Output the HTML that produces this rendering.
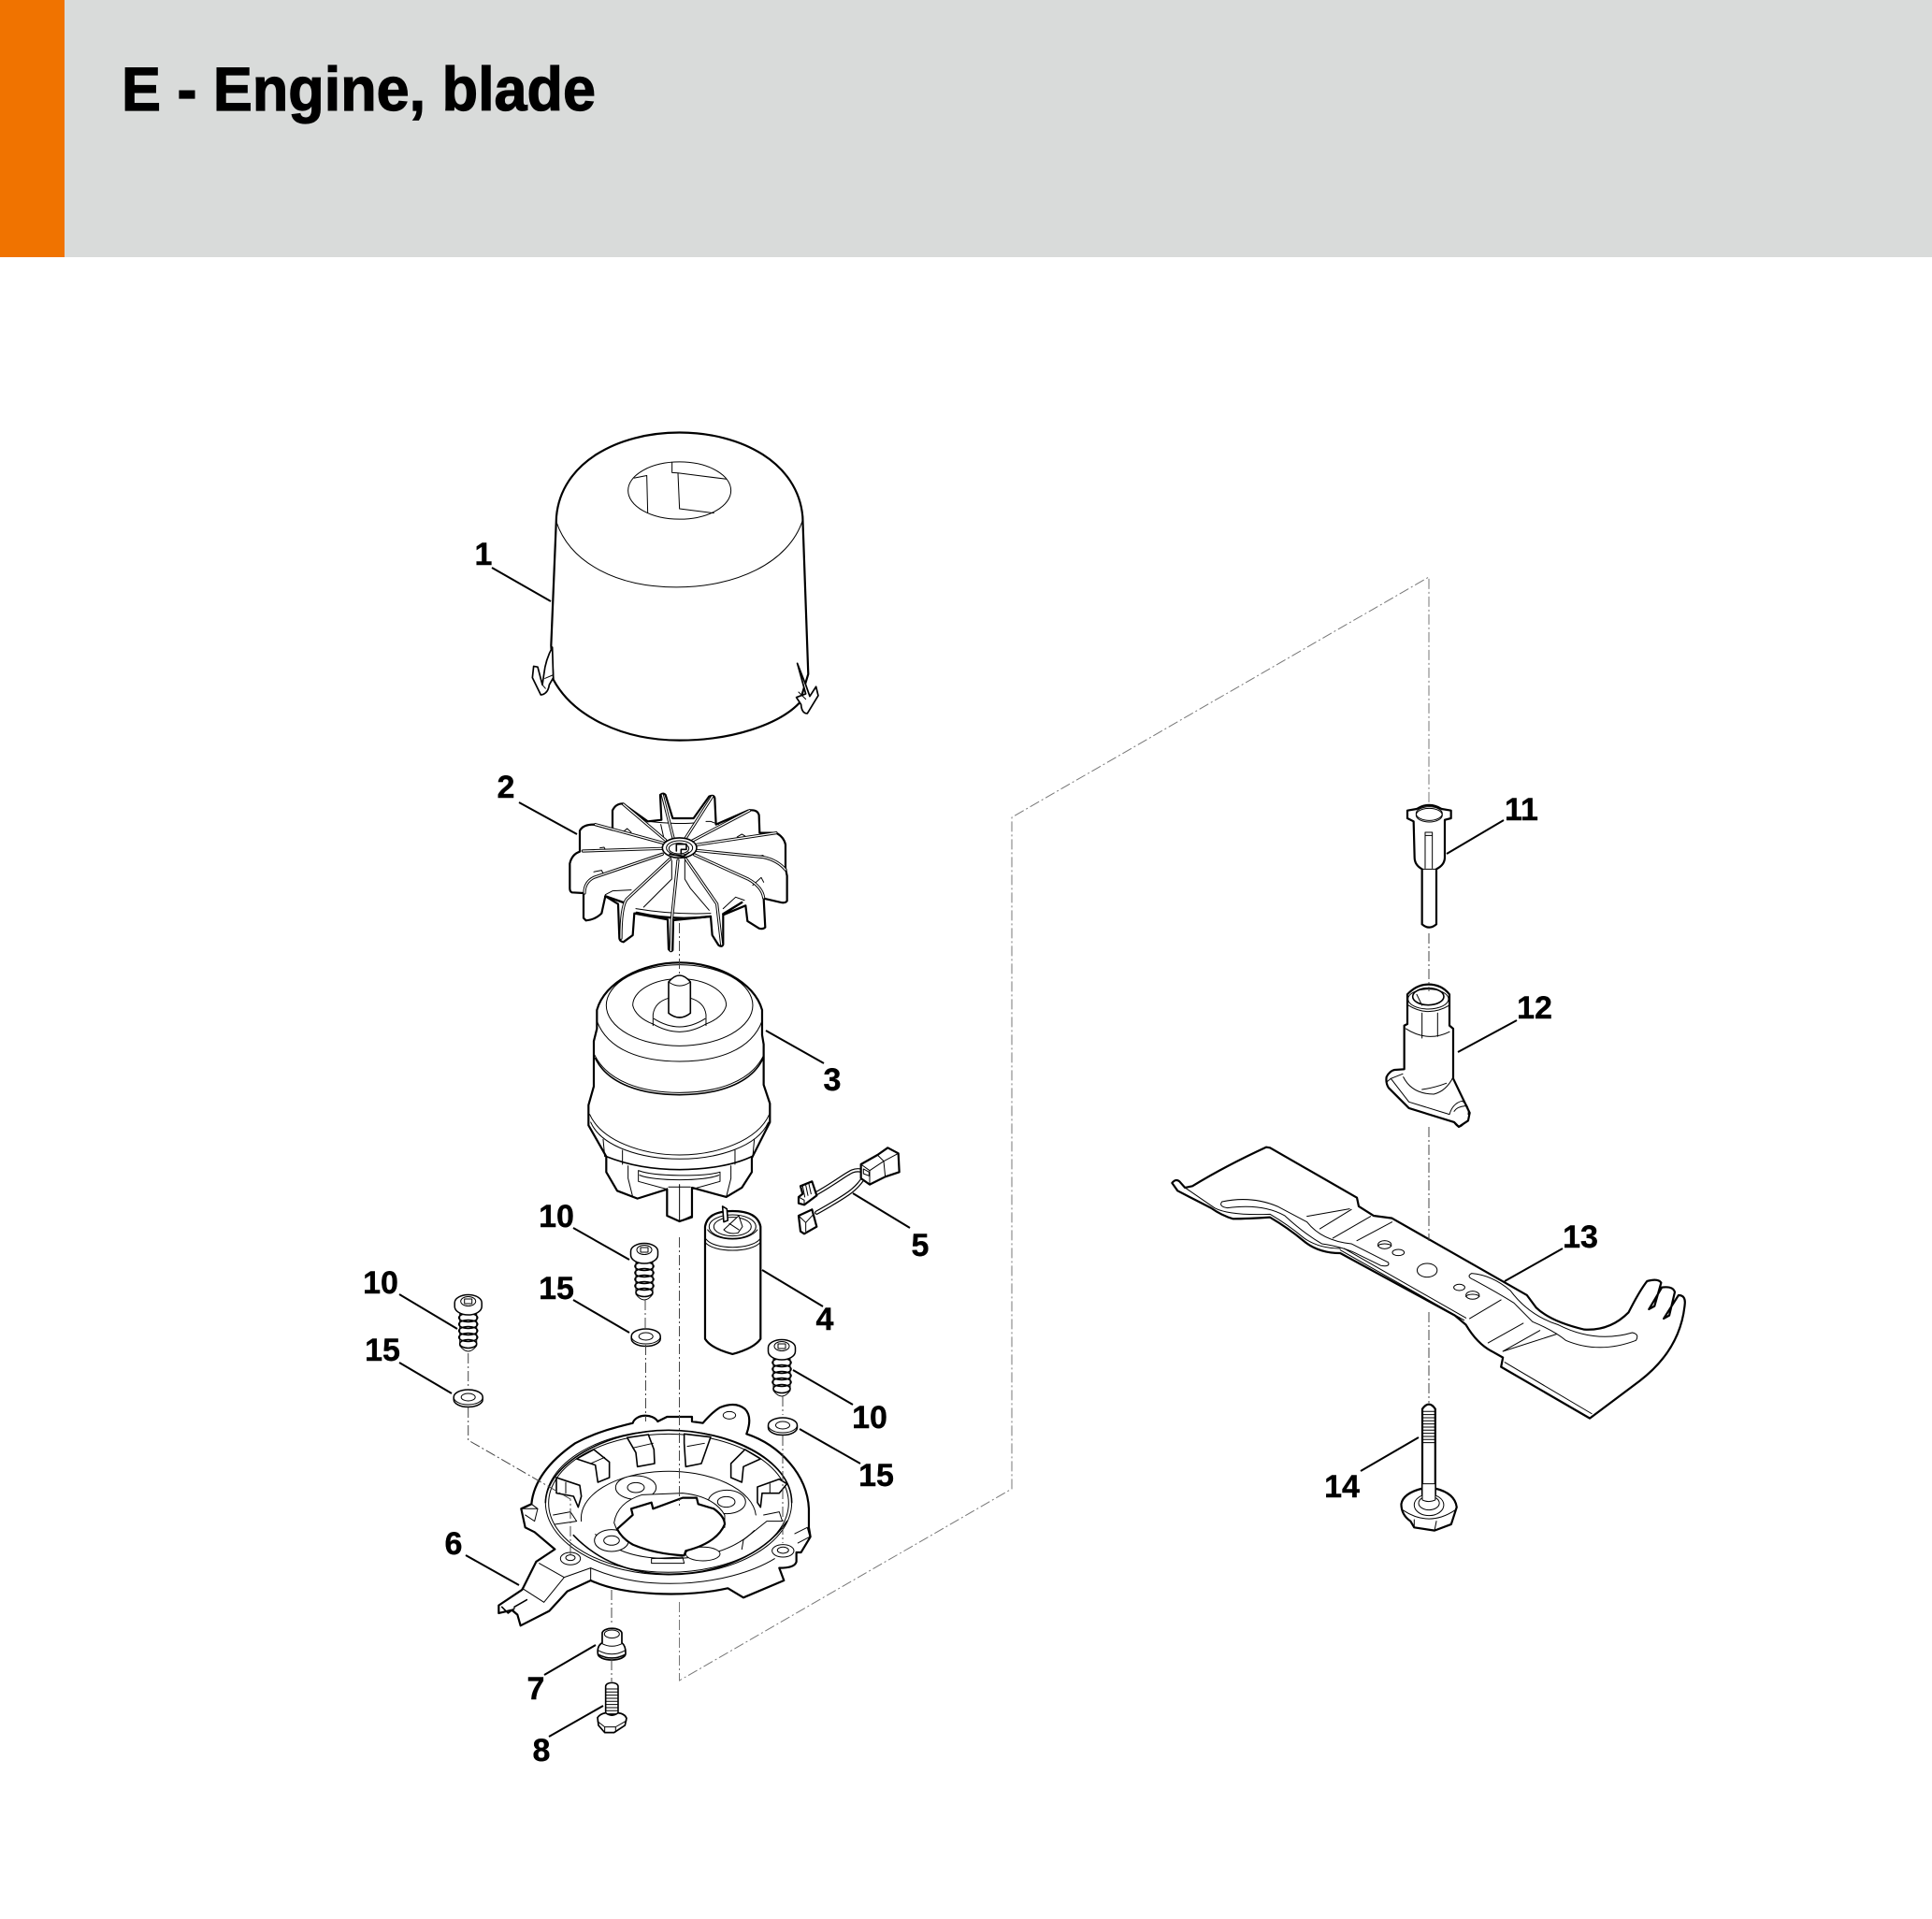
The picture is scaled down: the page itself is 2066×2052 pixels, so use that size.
<!DOCTYPE html>
<html><head><meta charset="utf-8"><style>
html,body{margin:0;padding:0;background:#fff}
svg{display:block}
svg *{vector-effect:non-scaling-stroke}
.k{fill:#fff;stroke:#000;stroke-width:2.2;stroke-linejoin:round;stroke-linecap:round}
.t{fill:none;stroke:#000;stroke-width:1;stroke-linejoin:round;stroke-linecap:round}
.m{fill:none;stroke:#000;stroke-width:1.6;stroke-linejoin:round;stroke-linecap:round}
.f{fill:#fff;stroke:#000;stroke-width:1;stroke-linejoin:round}
.b{fill:none;stroke:#000;stroke-width:3.2;stroke-linecap:round;stroke-linejoin:round}
.w{fill:none;stroke:#fff;stroke-width:1.3;stroke-linecap:round;stroke-linejoin:round}
.d{fill:none;stroke:#444;stroke-width:1;stroke-dasharray:11 3 2 3}
.l{fill:none;stroke:#000;stroke-width:2}
text.n{font:bold 34px "Liberation Sans",sans-serif;text-anchor:middle;fill:#000;stroke:#000;stroke-width:.4}
</style></head><body>
<svg xmlns="http://www.w3.org/2000/svg" width="2066" height="2052" viewBox="0 0 2066 2052">
<rect width="2066" height="2052" fill="#fff"/>
<rect width="2066" height="275" fill="#d9dbda"/>
<rect width="69" height="275" fill="#f07300"/>
<text x="130" y="118" font-family="Liberation Sans" font-weight="bold" font-size="66" textLength="507" lengthAdjust="spacingAndGlyphs" stroke="#000" stroke-width="1.2">E - Engine, blade</text>

<defs>
<g id="screw">
<path class="f" d="M-9,12V46Q0,58 9,46V12Z"/>
<g class="m"><ellipse cx="0" cy="16" rx="10" ry="4.5"/><ellipse cx="0" cy="23" rx="10" ry="4.5"/><ellipse cx="0" cy="30" rx="10" ry="4.5"/><ellipse cx="0" cy="37" rx="10" ry="4.5"/><ellipse cx="0" cy="44" rx="9" ry="4.5"/></g>
<path class="k" style="stroke-width:1.5" d="M-14.5,0V4A14.5,9 0 0 0 14.5,4V0A14.5,8.5 0 0 0 -14.5,0Z"/>
<ellipse class="t" cx="0" cy="-1.5" rx="8" ry="5"/><rect class="t" x="-4" y="-4" width="8" height="5"/>
</g>
<g id="washer">
<path class="k" style="stroke-width:1.5" d="M-15.5,0V2.5A15.5,8 0 0 0 15.5,2.5V0A15.5,8 0 0 0 -15.5,0Z"/>
<path class="t" d="M-15.5,0A15.5,8 0 0 0 15.5,0"/>
<ellipse class="t" cx="0" cy="0" rx="7.5" ry="4"/>
</g>
</defs>

<!-- CAP + -->
<g transform="translate(500,430) scale(.3333,.3827)">
<path class="k" d="M285,320C300,170 480,85 680,85C880,85 1060,170 1075,320L1093,760L1065,840C1000,900 850,945 680,945C500,945 340,880 275,775L268,680Z"/>
<path class="t" d="M285,335C330,450 480,517 670,517C860,517 1030,450 1075,330"/>
<ellipse class="t" cx="680" cy="247" rx="165" ry="80"/>
<path class="t" d="M535,212L575,205L578,310M656,168V197L675,198L680,298L790,310M675,198L830,215"/>
<path class="k" style="stroke-width:1.7" d="M272,685Q250,720 245,760L240,790L225,740L212,738L208,770L235,818Q258,815 262,790L275,770Z"/>
<path class="t" d="M248,772L275,762M240,790L250,800"/>
<path class="k" style="stroke-width:1.7" d="M1058,730L1085,790L1098,822L1118,795L1125,820L1090,870Q1072,870 1070,845L1055,825L1085,815Z"/>
<path class="t" d="M1062,810L1085,830"/>
</g>

<!-- FAN -->
<g transform="translate(560,770) scale(.3333)">
<path class="k" d="M180,368V355Q190,335 225,335L285,352V290Q295,268 318,268L398,325L442,320L438,240Q448,232 455,240L478,315H545L595,245Q610,238 613,250L617,335L720,290Q750,285 755,305L757,362H810Q835,375 840,400V475L845,500V580Q840,588 825,585L770,572L775,665Q768,672 755,668L718,645L712,595L640,625V720Q635,730 625,722L605,690L600,630L480,642L478,738Q472,745 465,735L462,640L355,620L350,690L320,712Q308,710 307,700L303,590L262,565L250,620Q230,640 200,643L192,635V555L155,553Q148,550 148,540V460Q155,430 180,422Z"/>
<path class="t" d="M475,450V510L385,600M517,450V510L535,540L595,610M400,325Q500,335 545,330M440,335L450,380M360,605Q480,625 600,620"/>
<path class="m" style="stroke-width:2.4" d="M362,618Q480,645 600,630M640,622L700,585M262,565L320,585"/>
<path class="t" d="M262,560L285,548L345,545M640,605L680,568L708,578M225,487L250,482L255,492M245,410L258,408L262,416M320,358L332,348L345,360M585,325L600,325L625,335M685,375L700,366L710,372M735,530L762,505L770,520M745,438L768,434L770,442"/>
<g class="b"><path d="M445,412L190,420"/><path d="M450,395L230,335"/><path d="M455,385L320,270"/><path d="M480,378L445,240"/><path d="M520,378L605,245"/><path d="M540,388L725,290"/><path d="M555,400L810,362"/><path d="M553,418L770,440Q815,450 840,480"/><path d="M548,432L720,510Q765,535 770,570"/><path d="M520,445L620,590L635,720"/><path d="M495,450L475,640L472,740"/><path d="M470,445L330,575Q312,600 312,700"/><path d="M445,430L225,505Q195,520 195,555"/></g>
<g class="w"><path d="M445,412L190,420"/><path d="M450,395L230,335"/><path d="M455,385L320,270"/><path d="M480,378L445,240"/><path d="M520,378L605,245"/><path d="M540,388L725,290"/><path d="M555,400L810,362"/><path d="M553,418L770,440Q815,450 840,480"/><path d="M548,432L720,510Q765,535 770,570"/><path d="M520,445L620,590L635,720"/><path d="M495,450L475,640L472,740"/><path d="M470,445L330,575Q312,600 312,700"/><path d="M445,430L225,505Q195,520 195,555"/></g>
<ellipse class="f" style="stroke-width:1.6" cx="500" cy="410" rx="55" ry="32"/>
<ellipse class="t" cx="500" cy="410" rx="42" ry="23"/>
<ellipse class="f" cx="498" cy="412" rx="32" ry="17"/>
<path class="m" d="M490,398H522V415H505V428M490,398V420M468,430L512,438L530,425"/>
</g>

<!-- MOTOR + CAPACITOR -->
<g transform="translate(500,1000) scale(.3333)">
<path class="k" d="M415,240C440,150 560,88 680,88C800,88 920,150 945,240V320L950,350V480L970,540V600L912,715V760L880,810L830,840L720,810V905L680,918L640,900V815L545,845L480,820L445,760V710L388,610V545L405,485V340L415,300Z"/>
<ellipse class="t" cx="680" cy="225" rx="235" ry="130"/>
<path class="t" d="M530,225A150,85 0 0 1 830,225A150,85 0 0 1 765,285M530,225A150,85 0 0 0 595,285"/>
<path class="t" d="M595,290V255Q600,215 645,202M765,290V255Q760,215 715,202"/>
<path class="t" d="M595,285Q680,335 765,285"/>
<path class="t" d="M598,268Q680,320 762,268"/>
<path class="f" style="stroke-width:1.6" d="M645,150Q680,108 715,150V250Q680,278 645,250Z"/>
<path class="t" d="M645,150Q680,175 715,150"/>
<path class="t" d="M415,275C450,370 560,405 680,405C800,405 910,370 945,275"/>
<path class="t" d="M408,385C450,470 560,505 680,505C800,505 910,470 950,385"/>
<path class="m" d="M410,395C450,478 560,512 680,512C800,512 910,478 948,395"/>
<path class="t" d="M392,575C430,660 560,705 680,705C800,705 930,660 968,575M395,600C430,680 560,718 680,718C800,718 930,680 965,600"/>
<path class="t" d="M435,655L440,710M497,690V735M858,690V735M920,655L915,710"/>
<path class="m" d="M445,710C520,740 600,752 680,752C760,752 850,740 912,710"/>
<path class="t" d="M515,740V780L530,840M845,740V780L830,840M548,755V790L640,815M810,760V790L720,815M548,755C600,775 760,775 810,760M552,770C600,790 760,790 806,770"/>
<path class="t" d="M680,800V815M640,812V900L680,918L720,900V812M645,808H715M680,808V918"/>

<path class="k" d="M762,935Q770,885 850,885Q930,885 940,935V1295Q920,1325 850,1344Q780,1325 762,1295Z"/>
<path class="t" d="M762,985C790,1020 910,1020 940,985M765,975C790,1010 910,1010 938,975M770,945C800,985 900,985 930,945"/>
<ellipse class="t" cx="850" cy="935" rx="75" ry="38"/><ellipse class="t" cx="850" cy="935" rx="60" ry="30"/>
<path class="f" style="stroke-width:1.6" d="M818,870L832,878L835,915L822,920Z"/>
<path class="f" d="M822,945L870,900L882,935L868,955Q840,962 822,945Z"/>
<path class="t" d="M840,925L870,945"/>
</g>

<!-- CONNECTOR 5 -->
<g transform="translate(830,1200) scale(.3333)">
<g style="stroke-width:4.4" class="b"><path style="stroke-width:4.4" d="M272,155C240,148 230,170 130,228"/><path style="stroke-width:4.4" d="M285,172C255,215 245,225 130,290"/></g>
<g class="w"><path style="stroke-width:2" d="M272,155C240,148 230,170 130,228"/><path style="stroke-width:2" d="M285,172C255,215 245,225 130,290"/></g>
<path class="k" d="M272,135L325,105L358,82L392,100L395,160L350,175L300,200L272,180Z"/>
<path class="t" d="M325,105L345,125L392,100M345,125L350,175M272,135L300,155V200M300,155L345,125M280,150L298,160V172L280,165Z"/>
<path class="k" d="M78,205L115,190L130,235L90,265L72,260V240L85,230Z"/>
<path class="t" d="M85,205L92,240M95,202L102,235M105,198L112,230M72,240L90,250V265"/>
<path class="k" d="M72,300L115,280L130,335L90,358L78,350Z"/>
<path class="t" d="M72,300L95,322L120,295M95,322V350"/>
</g>

<!-- RING 6, 7, 8 -->
<g transform="translate(500,1400) scale(.3333)">
<path class="k" d="M395,870L320,905L262,968L170,1015L160,980L142,965L100,975V950L175,900L220,810L280,770L215,715L185,700L172,640L205,625Q215,520 345,430C410,395 470,380 530,365A42,30 0 0 1 610,360L640,345H720V360L755,365Q785,330 810,315Q860,295 890,320Q915,345 895,400C1000,435 1090,530 1095,640V700L1100,730L1070,780H1055V810Q1050,830 1000,830L1015,870L885,925L835,895C700,925 500,920 395,870Z"/>
<ellipse class="t" cx="645" cy="620" rx="395" ry="232"/>
<path class="m" d="M250,620C252,500 440,388 645,388C830,388 1040,480 1040,620"/>
<ellipse class="t" cx="645" cy="622" rx="385" ry="222"/>
<path class="m" d="M340,725C420,810 530,850 650,850C800,850 950,790 1025,680"/>
<path class="t" d="M395,830C500,875 590,880 650,880C800,880 920,840 985,800"/>
<path class="t" d="M365,680A280,150 0 0 1 925,660"/>
<path class="t" d="M410,722C480,785 560,800 650,800C760,800 860,770 920,710"/>
<path class="t" d="M230,815L310,860L395,830V870M175,895L245,940M310,860L245,940M172,640H225L215,680L185,660M205,625L225,640M1050,720L1090,700L1098,730L1060,750"/>
<path class="m" d="M150,955L190,932M110,955L130,975L150,960M160,980L145,965"/>
<ellipse class="f" cx="840" cy="340" rx="20" ry="12"/>
<ellipse class="f" cx="330" cy="800" rx="32" ry="20"/><ellipse class="t" cx="330" cy="797" rx="15" ry="9"/>
<ellipse class="f" cx="1012" cy="775" rx="35" ry="20"/><ellipse class="t" cx="1012" cy="773" rx="18" ry="10"/>
<path class="f" style="stroke-width:1.6" d="M512,412L580,402L598,450L600,495L545,505L540,460Z"/><path class="t" d="M530,445L595,430"/>
<path class="f" style="stroke-width:1.6" d="M695,400L780,410L750,495L700,505L695,430Z"/><path class="t" d="M705,440L760,430"/>
<path class="f" style="stroke-width:1.6" d="M350,480L405,450L455,490V540L418,555L410,500Z"/><path class="t" d="M395,495L440,475"/>
<path class="f" style="stroke-width:1.6" d="M845,495L890,450L940,480L885,505L880,555L845,540Z"/>
<path class="f" style="stroke-width:1.6" d="M285,540L360,565L365,600L355,635L340,600L285,590Z"/><path class="t" d="M315,555V590"/>
<path class="f" style="stroke-width:1.6" d="M930,570L1000,545L1025,560L1000,590H945L940,635L930,620Z"/><path class="t" d="M970,560V590"/>
<path class="t" d="M275,660L330,650L350,680L280,690M950,660L1000,650L1010,680H960L885,740L880,770M590,800L690,795L695,815L590,815Z"/>
<ellipse class="f" cx="540" cy="572" rx="65" ry="38"/><ellipse class="f" cx="540" cy="572" rx="27" ry="16"/>
<ellipse class="f" cx="832" cy="618" rx="60" ry="38"/><ellipse class="f" cx="830" cy="618" rx="28" ry="17"/>
<ellipse class="f" cx="462" cy="742" rx="55" ry="35"/><ellipse class="f" cx="462" cy="742" rx="25" ry="15"/>
<ellipse class="f" cx="755" cy="785" rx="55" ry="22"/>
<path class="f" d="M470,685Q480,620 560,595L690,590Q790,600 825,660L825,700L480,710Z"/>
<path class="k" d="M480,705L530,660L525,640L590,620L595,640L690,605H735L740,625L790,640Q825,665 825,690Q800,750 700,775L695,790Q600,785 530,755Q495,735 480,705Z"/>

<path class="k" style="stroke-width:1.7" d="M432,1040A31,16 0 0 1 495,1040V1070Q508,1080 507,1105A44,20 0 0 1 418,1105Q415,1080 432,1070Z"/>
<ellipse class="t" cx="463" cy="1042" rx="24" ry="13"/>
<path class="t" d="M430,1072Q463,1090 497,1072M420,1095Q463,1118 505,1095"/>
<path class="m" d="M420,1108Q463,1130 505,1108"/>
<path class="f" style="stroke-width:1.6" d="M443,1210A20,12 0 0 1 483,1210V1300H443Z"/>
<path class="t" d="M444,1218H482M444,1228H482M444,1238H482M444,1248H482M444,1258H482M444,1268H482M444,1278H482M444,1288H482M444,1298H482"/>
<path class="k" style="stroke-width:1.7" d="M417,1310Q425,1298 443,1295Q463,1310 483,1295Q505,1298 510,1312L505,1335L470,1358H440L420,1335Z"/>
<path class="t" d="M417,1322L440,1340H475L510,1320M440,1340V1358M475,1340V1356"/>
</g>

<!-- BLADE 13 + BOLT 14 -->
<g transform="translate(1200,1150) scale(.3953,.3333)">
<path class="k" d="M135,345Q145,330 155,340L170,360L190,355Q280,290 390,230L400,232L635,392L640,420L680,450L730,458L1095,705L1120,745Q1160,790 1250,815Q1320,820 1370,760Q1400,690 1420,660Q1450,650 1458,665L1440,740L1425,750L1460,680Q1490,675 1495,695L1480,770L1465,780L1505,705Q1525,705 1522,735Q1510,880 1400,980L1265,1100L1025,935L1030,905L1000,885Q960,860 930,800L900,770L590,570Q530,570 490,530Q450,490 400,455Q340,460 300,460Q270,450 240,425L150,370Z"/>
<path class="t" d="M270,405Q350,385 420,420L500,470Q540,530 620,540L720,600Q725,615 700,610L640,575Q600,550 540,540Q490,505 440,450Q380,410 285,425Q260,420 270,405Z"/>
<path class="t" d="M945,635Q1000,640 1050,690Q1100,770 1180,800Q1280,860 1380,825Q1400,830 1390,850Q1290,895 1200,850Q1170,820 1110,790L1060,730Q1020,700 950,655Q930,645 945,635Z"/>
<path class="t" d="M500,452L615,428M535,492L620,430M570,522L672,452M635,530L730,470M940,780L1025,720M990,858L1085,795M1030,885L1130,818M1030,885L1175,830M590,560L925,785M600,555L930,778M1035,920L1270,1085M170,360L250,425Q290,450 400,445Q450,480 490,520Q530,555 590,555"/>
<ellipse class="t" cx="825" cy="625" rx="27" ry="22"/>
<ellipse class="t" cx="710" cy="543" rx="18" ry="13"/><path class="t" d="M692,548A18,8 0 0 1 728,548"/>
<ellipse class="t" cx="747" cy="568" rx="16" ry="10"/>
<ellipse class="t" cx="912" cy="680" rx="15" ry="10"/>
<ellipse class="t" cx="948" cy="705" rx="18" ry="13"/><path class="t" d="M930,710A18,8 0 0 1 966,710"/>

<path class="k" d="M812,1070Q830,1040 847,1070V1350H812Z"/>
<path class="t" d="M814,1078H845M814,1088H845M814,1098H845M814,1108H845M814,1118H845M814,1128H845M814,1138H845M814,1148H845M814,1158H845M814,1168H845M814,1178H845"/>
<path class="k" d="M755,1375Q760,1340 812,1325V1345H847V1325Q900,1340 905,1385L890,1440L845,1460L790,1450L780,1430Q755,1410 755,1375Z"/>
<path class="f" d="M812,1322V1360H847V1322"/>
<ellipse class="t" cx="830" cy="1378" rx="40" ry="34"/><ellipse class="t" cx="830" cy="1372" rx="28" ry="22"/>
<path class="t" d="M760,1395Q830,1450 900,1395M790,1450V1425M845,1460L850,1430"/>
<path class="f" d="M812,1310V1362Q830,1372 847,1362V1310Z"/>
</g>

<!-- PARTS 11, 12 -->
<g transform="translate(1400,830) scale(.3333)">
<path class="k" d="M315,110L345,105Q385,80 425,105L455,110V135L435,140V260Q435,285 408,298V475Q385,495 362,475V298Q338,285 338,260L335,145L315,135Z"/>
<ellipse class="t" cx="385" cy="125" rx="42" ry="22"/><ellipse class="t" cx="385" cy="120" rx="42" ry="22"/>
<path class="t" d="M372,295V180H395V295M372,190H395M362,298H408"/>
<path class="k" d="M315,700Q345,668 382,668Q425,668 450,700V800L462,810V970L515,1080L510,1105L480,1125L465,1110L320,1065L255,1000Q245,985 248,965Q258,945 275,942L305,940V800L315,795Z"/>
<ellipse class="t" cx="382" cy="715" rx="65" ry="32"/><ellipse class="m" cx="382" cy="707" rx="50" ry="27"/>
<path class="t" d="M345,700L362,735M362,760V840M412,760V835M318,735Q382,775 450,735M310,810Q380,855 450,820M302,965Q330,1020 400,1020Q440,1010 462,965M362,1005Q400,1000 440,985M262,970L320,1045L450,1085M250,980L262,970L300,955"/>
<path class="t" d="M450,1085Q460,1050 490,1042Q515,1055 510,1085M465,1075Q475,1060 500,1058"/>
<path class="m" d="M465,1110Q480,1135 495,1115"/>
</g>

<!-- SCREWS & WASHERS -->
<use href="#screw" x="500.7" y="1393"/>
<use href="#screw" x="689" y="1338"/>
<use href="#screw" x="836" y="1441"/>
<use href="#washer" x="500.7" y="1494"/>
<use href="#washer" x="690.7" y="1429"/>
<use href="#washer" x="837" y="1524"/>

<!-- DASHED AXES -->
<path class="d" d="M726.5,987V1043M726.5,1323V1610M690,1390V1420M690.5,1438V1520M500.7,1447V1485M500.7,1505V1540L610,1603V1663M837,1493V1513M837,1535V1650M654,1700V1735M654,1775V1798M1528,998V1060M1528,1205V1327M1528,1403V1500"/>
<path class="d" style="stroke:#777" d="M726.5,1713V1797L1082,1592V874L1528,617V858"/>

<!-- LEADERS -->
<path class="l" d="M526,607L589,643M555,858L617,892M819,1102L881,1137M815,1358L880,1397M912,1276L973,1313M498,1663L555,1695M582,1791L637,1759M587,1857L645,1824M613,1313L673,1347M427,1384L489,1421M848,1465L912,1502M613,1390L673,1425M427,1457L483,1490M855,1528L920,1565M1547,913L1608,877M1559,1125L1622,1091M1609,1370L1671,1335M1455,1573L1517,1537"/>

<!-- LABELS -->
<text class="n" x="517" y="604">1</text>
<text class="n" x="541" y="853">2</text>
<text class="n" x="890" y="1166">3</text>
<text class="n" x="882" y="1422">4</text>
<text class="n" x="984" y="1343">5</text>
<text class="n" x="485" y="1662">6</text>
<text class="n" x="573" y="1817">7</text>
<text class="n" x="579" y="1883">8</text>
<text class="n" x="595" y="1312">10</text>
<text class="n" x="407" y="1383">10</text>
<text class="n" x="930" y="1527">10</text>
<text class="n" x="595" y="1389">15</text>
<text class="n" x="409" y="1455">15</text>
<text class="n" x="937" y="1589">15</text>
<text class="n" x="1627" y="877">11</text>
<text class="n" x="1641" y="1089">12</text>
<text class="n" x="1690" y="1334">13</text>
<text class="n" x="1435" y="1601">14</text>
</svg>
</body></html>
